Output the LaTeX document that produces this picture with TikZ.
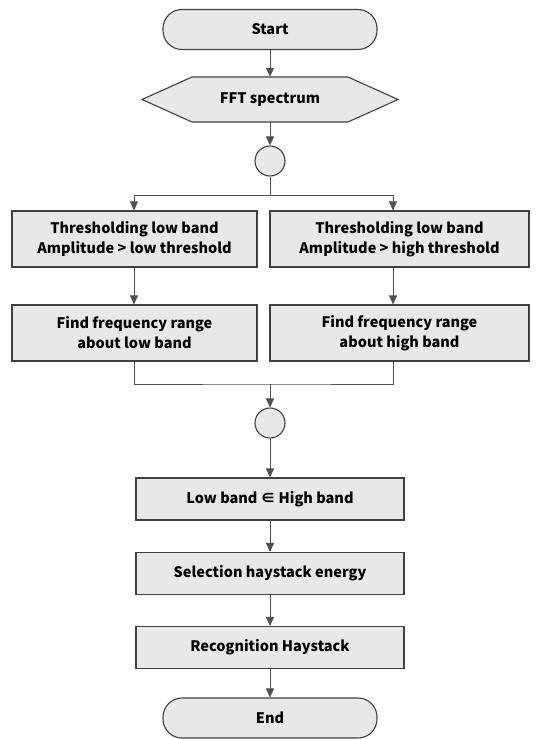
\documentclass[tikz,border=0pt]{standalone}
\usepackage{fontspec}
\setmainfont{Noto Sans CJK KR}
\usetikzlibrary{arrows.meta}
\definecolor{boxfill}{HTML}{E8E8E8}
\definecolor{boxline}{HTML}{404040}
\definecolor{wire}{HTML}{505050}
\tikzset{
  block/.style={draw=boxline, fill=boxfill, line width=1.1pt, minimum height=42pt,
    align=center, font=\fontsize{14.5}{20}\selectfont\bfseries, inner sep=0pt},
  terminal/.style={block, rounded corners=19pt, minimum width=214pt, minimum height=40pt},
  junction/.style={circle, draw=boxline, fill=boxfill, line width=1.1pt, minimum size=30pt, inner sep=0pt},
  flow/.style={draw=wire, line width=0.8pt, -{Triangle[length=9pt,width=8pt]}},
  wireline/.style={draw=wire, line width=0.8pt}
}
\begin{document}
\begin{tikzpicture}[x=1pt, y=-1pt]
  \useasboundingbox (0,0) rectangle (549,739);
  % top
  \node[terminal] (start) at (270, 29.5) {Start};
  \draw[draw=boxline, fill=boxfill, line width=1.1pt]
    (142,99.5) -- (192,77) -- (348,77) -- (398,99.5) -- (348,122) -- (192,122) -- cycle;
  \node[font=\fontsize{14.5}{20}\selectfont\bfseries, minimum height=45pt, minimum width=156pt, inner sep=0pt] (fft) at (270, 99.5) {FFT spectrum};
  \node[junction] (split) at (270, 161) {};
  % two branches
  \node[block, minimum width=245pt, minimum height=56pt] (lowthr) at (134.5, 239) {Thresholding low band\\Amplitude > low threshold};
  \node[block, minimum width=259pt, minimum height=56pt] (highthr) at (399.5, 239) {Thresholding low band\\Amplitude > high threshold};
  \node[block, minimum width=245pt, minimum height=56pt] (lowrange) at (134.5, 333) {Find frequency range\\about low band};
  \node[block, minimum width=259pt, minimum height=56pt] (highrange) at (399.5, 333) {Find frequency range\\about high band};
  \node[junction] (merge) at (270, 423) {};
  % bottom
  \node[block, minimum width=268pt] (inband) at (270, 499) {Low band ∈ High band};
  \node[block, minimum width=268pt] (select) at (270, 573.5) {Selection haystack energy};
  \node[block, minimum width=268pt] (recog) at (270, 647.5) {Recognition Haystack};
  \node[terminal] (stop) at (270, 718) {End};
  \coordinate (fork) at (270, 195);
  \coordinate (join) at (270, 384);
  % connectors
  \draw[flow] (start) -- (fft);
  \draw[flow] (fft) -- (split);
  \draw[wireline] (split) -- (fork);
  \draw[flow] (fork) -| (lowthr.north -| 134,0);
  \draw[flow] (fork) -| (highthr.north -| 393,0);
  \draw[flow] (lowthr.south -| 134,0) -- (lowrange.north -| 134,0);
  \draw[flow] (highthr.south -| 393,0) -- (highrange.north -| 393,0);
  \draw[wireline] (lowrange.south -| 134,0) |- (join) -| (highrange.south -| 393,0);
  \draw[flow] (join) -- (merge);
  \draw[flow] (merge) -- (inband);
  \draw[flow] (inband) -- (select);
  \draw[flow] (select) -- (recog);
  \draw[flow] (recog) -- (stop);
\end{tikzpicture}
\end{document}
